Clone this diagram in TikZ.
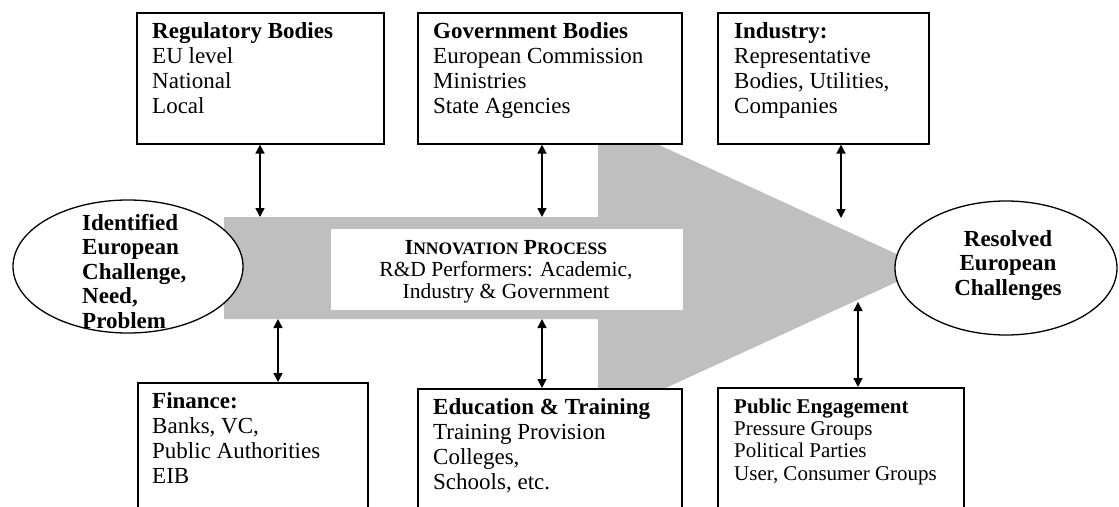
\documentclass[tikz,border=0pt]{standalone}
\usepackage{fontspec}
\setmainfont{Liberation Serif}
\usetikzlibrary{arrows.meta,shapes.geometric}
\begin{document}
\begin{tikzpicture}[x=1pt,y=-1pt,
  box/.style={draw=black, line width=1.6pt, rectangle, fill=white, inner sep=0pt, anchor=north west},
  txt/.style={inner sep=0pt, anchor=base west, font=\fontsize{23}{25}\selectfont},
  smalltxt/.style={inner sep=0pt, anchor=base west, font=\fontsize{21}{22.4}\selectfont},
  oval/.style={draw=black, fill=white, line width=1.3pt, ellipse, inner sep=0pt},
  link/.style={line width=1.5pt, {Triangle[width=9pt,length=9pt]}-{Triangle[width=9pt,length=9pt]}},
  flow/.style={fill=black!25, draw=none},
]
\useasboundingbox (0,0) rectangle (1119,506);
\clip (0,0) rectangle (1119,506);
\fill[white] (0,0) rectangle (1119,506);

% big grey arrow
\fill[flow] (224,217) -- (598,217) -- (598,117) -- (927,268) -- (598,419) -- (598,319) -- (224,319) -- cycle;

% innovation box
\node[box, draw=none, minimum width=352pt, minimum height=81pt] (inn) at (330,228) {};
\node[inner sep=0pt, anchor=base, font=\fontsize{21.5}{22}\selectfont] (innT) at (506,254)
  {\begin{tabular}[t]{@{}c@{}}\textbf{I{\fontsize{17.5}{22}\selectfont NNOVATION} P{\fontsize{17.5}{22}\selectfont ROCESS}}\\ R\&D Performers: Academic,\\ Industry \& Government\end{tabular}};

% ellipses
\node[oval, minimum width=230pt, minimum height=133pt] (idE) at (128,266.5) {};
\node[txt, font=\fontsize{23}{24.5}\selectfont\bfseries] (idT) at (82,230)
  {\begin{tabular}[t]{@{}l@{}}Identified\\ European\\ Challenge,\\ Need,\\ Problem\end{tabular}};
\node[oval, minimum width=222pt, minimum height=134pt] (resE) at (1006,268) {};
\node[inner sep=0pt, anchor=base, font=\fontsize{23}{24.5}\selectfont\bfseries] (resT) at (1008,246)
  {\begin{tabular}[t]{@{}c@{}}Resolved\\ European\\ Challenges\end{tabular}};

% top boxes
\node[box, minimum width=247pt, minimum height=131pt] (reg) at (136,12) {};
\node[txt] (regT) at (152,38)
  {\begin{tabular}[t]{@{}l@{}}\textbf{Regulatory Bodies}\\ EU level\\ National\\ Local\end{tabular}};
\node[box, minimum width=264pt, minimum height=131pt] (gov) at (417,12) {};
\node[txt] (govT) at (433,38)
  {\begin{tabular}[t]{@{}l@{}}\textbf{Government Bodies}\\ European Commission\\ Ministries\\ State Agencies\end{tabular}};
\node[box, minimum width=211pt, minimum height=131pt] (ind) at (717,12) {};
\node[txt] (indT) at (734,38)
  {\begin{tabular}[t]{@{}l@{}}\textbf{Industry:}\\ Representative\\ Bodies, Utilities,\\ Companies\end{tabular}};

% bottom boxes
\node[box, minimum width=230pt, minimum height=150pt] (fin) at (137,382) {};
\node[txt] (finT) at (152,408)
  {\begin{tabular}[t]{@{}l@{}}\textbf{Finance:}\\ Banks, VC,\\ Public Authorities\\ EIB\end{tabular}};
\node[box, minimum width=264pt, minimum height=150pt] (edu) at (417,388) {};
\node[txt] (eduT) at (433,414)
  {\begin{tabular}[t]{@{}l@{}}\textbf{Education \& Training}\\ Training Provision\\ Colleges,\\ Schools, etc.\end{tabular}};
\node[box, minimum width=246pt, minimum height=150pt] (pub) at (717,387) {};
\node[smalltxt] (pubT) at (734,413)
  {\begin{tabular}[t]{@{}l@{}}\textbf{Public Engagement}\\ Pressure Groups\\ Political Parties\\ User, Consumer Groups\end{tabular}};

% connectors
\coordinate (aReg) at (260,217);
\coordinate (aGov) at (542,217);
\coordinate (aInd) at (841,218);
\coordinate (aFin) at (278,319);
\coordinate (aEdu) at (542,319);
\coordinate (aPub) at (858,302);
\draw[link] (aReg |- reg.south) -- (aReg);
\draw[link] (aGov |- gov.south) -- (aGov);
\draw[link] (aInd |- ind.south) -- (aInd);
\draw[link] (aFin) -- (aFin |- fin.north);
\draw[link] (aEdu) -- (aEdu |- edu.north);
\draw[link] (aPub) -- (aPub |- pub.north);
\end{tikzpicture}
\end{document}
